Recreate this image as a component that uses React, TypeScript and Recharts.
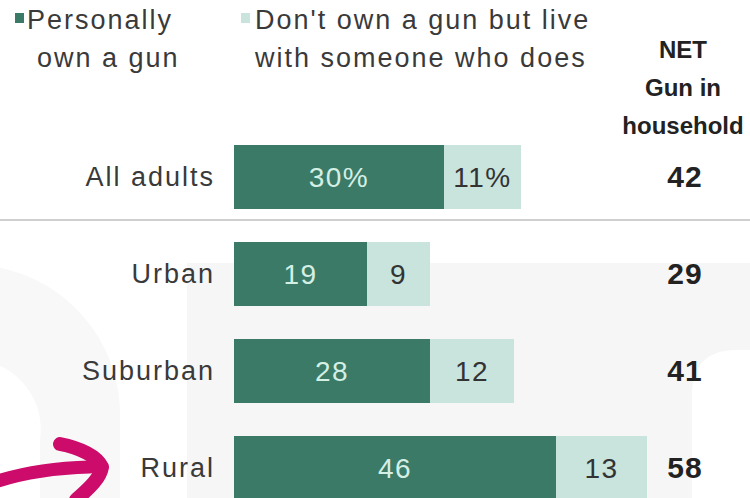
import { BarChart, Bar, XAxis, YAxis, LabelList } from 'recharts';

const categories = ['All adults', 'Urban', 'Suburban', 'Rural'];
const personallyOwn = [30, 19, 28, 46];
const liveWithOwner = [11, 9, 12, 13];
const netInHousehold = [42, 29, 41, 58];

const data = categories.map((name, i) => ({
  name,
  own: personallyOwn[i],
  live: liveWithOwner[i],
  net: netInHousehold[i],
}));

const DARK = '#3b7a66';
const LIGHT = '#c8e4dd';
const FONT = '"Liberation Sans", Arial, sans-serif';

const barLabel = (fill: string) => (props: any) => {
  const { x, y, width, height, index, value } = props;
  return (
    <text
      x={x + width / 2}
      y={y + height / 2}
      dy="0.36em"
      textAnchor="middle"
      fill={fill}
      fontSize={28}
      fontFamily={FONT}
      letterSpacing={1.5}
    >
      {index === 0 ? `${value}%` : value}
    </text>
  );
};

const CategoryTick = ({ x, y, payload }: any) => (
  <text x={x} y={y} dy="0.36em" textAnchor="end" fill="#3a3a3a" fontSize={27} fontFamily={FONT} letterSpacing={2}>
    {payload.value}
  </text>
);

const NetTick = ({ x, y, payload }: any) => (
  <text x={x + 17} y={y} dy="0.36em" textAnchor="middle" fill="#222" fontSize={30} fontWeight="bold" fontFamily={FONT} letterSpacing={1}>
    {data[payload.index]?.net}
  </text>
);

export default function App() {
  const legendText: React.CSSProperties = {
    position: 'absolute',
    fontFamily: FONT,
    fontSize: 27,
    lineHeight: '38px',
    color: '#3a3a3a',
    letterSpacing: 2,
    whiteSpace: 'nowrap',
  };
  return (
    <div style={{ position: 'absolute', left: 0, top: 0, width: 750, height: 498, overflow: 'hidden', background: '#fff' }}>
      {/* faint watermark behind the chart */}
      <svg width={750} height={498} style={{ position: 'absolute', left: 0, top: 0 }}>
        <path d="M187,263 H750 V498 H187 Z" fill="#f6f6f6" />
        <path d="M692,498 V395 Q692,350 737,350 H750 V498 Z" fill="#fff" />
        <path d="M-20,265 A150,150 0 0 1 120,420 L120,498 L40,498 L40,440 A70,70 0 0 0 -20,360 Z" fill="#f8f8f8" />
      </svg>
      <div style={{ position: 'absolute', left: 0, top: 219, width: 750, height: 2, background: '#cfcfcf' }} />
      <div style={{ position: 'absolute', left: 15, top: 13, width: 9, height: 10, background: DARK }} />
      <div style={{ ...legendText, left: 27, top: 1 }}>
        Personally
        <br />
        <span style={{ paddingLeft: 10 }}>own a gun</span>
      </div>
      <div style={{ position: 'absolute', left: 241, top: 13, width: 9, height: 10, background: LIGHT }} />
      <div style={{ ...legendText, left: 255, top: 1 }}>
        Don't own a gun but live
        <br />
        with someone who does
      </div>
      <div
        style={{
          position: 'absolute',
          left: 608,
          top: 31,
          width: 150,
          textAlign: 'center',
          fontFamily: FONT,
          fontWeight: 'bold',
          fontSize: 24,
          lineHeight: '38px',
          color: '#222',
          whiteSpace: 'nowrap',
        }}
      >
        NET
        <br />
        Gun in
        <br />
        household
      </div>
      <BarChart
        layout="vertical"
        width={750}
        height={516}
        data={data}
        margin={{ top: 128, right: 0, bottom: 0, left: 0 }}
        style={{ position: 'absolute', left: 0, top: 0 }}
      >
        <XAxis type="number" domain={[0, 62]} hide />
        <YAxis
          yAxisId="left"
          type="category"
          dataKey="name"
          width={234}
          axisLine={false}
          tickLine={false}
          tickSize={0}
          tickMargin={19}
          tick={<CategoryTick />}
        />
        <YAxis
          yAxisId="right"
          orientation="right"
          type="category"
          dataKey="name"
          width={82}
          axisLine={false}
          tickLine={false}
          tickSize={0}
          tickMargin={0}
          tick={<NetTick />}
        />
        <Bar yAxisId="left" dataKey="own" stackId="a" fill={DARK} barSize={64} isAnimationActive={false}>
          <LabelList dataKey="own" content={barLabel('#d4efe4')} />
        </Bar>
        <Bar yAxisId="left" dataKey="live" stackId="a" fill={LIGHT} barSize={64} isAnimationActive={false}>
          <LabelList dataKey="live" content={barLabel('#333')} />
        </Bar>
      </BarChart>
      <svg width={750} height={498} style={{ position: 'absolute', left: 0, top: 0, pointerEvents: 'none' }}>
        <path d="M-5,482 C25,472 55,468 90,467" stroke="#cc0b6b" strokeWidth={13} fill="none" strokeLinecap="round" />
        <path d="M60,444 C80,448 97,456 102,467 C100,479 88,489 76,500" stroke="#cc0b6b" strokeWidth={14} fill="none" strokeLinecap="round" strokeLinejoin="round" />
      </svg>
    </div>
  );
}
